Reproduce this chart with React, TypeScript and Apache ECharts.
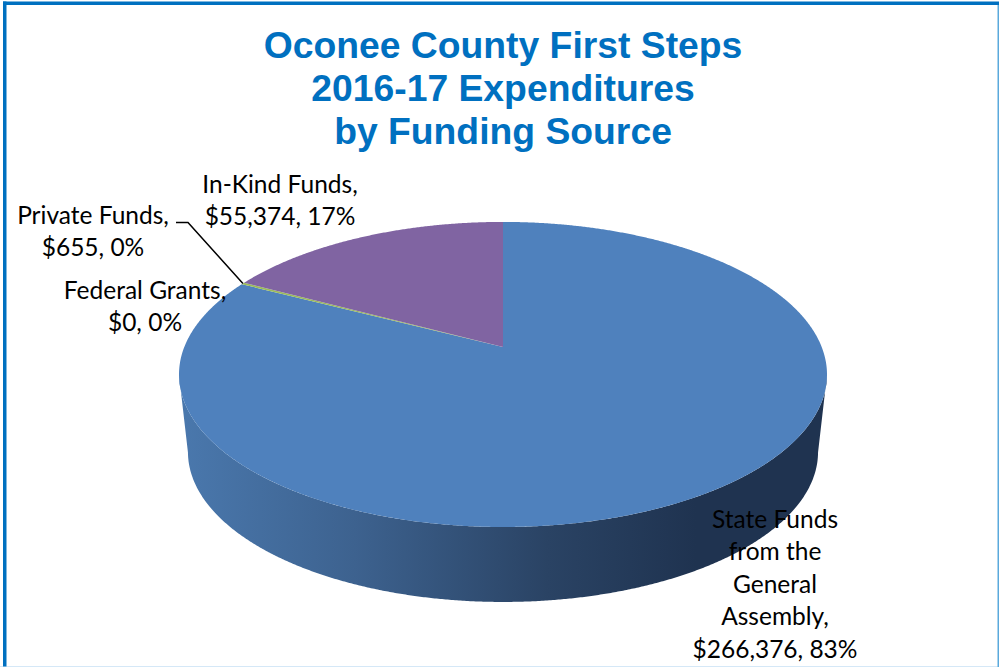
import React, { useEffect, useRef } from "react";
import * as echarts from "echarts";

const titleLines = ["Oconee County First Steps", "2016-17 Expenditures", "by Funding Source"];
const categories = ["State Funds from the General Assembly", "Federal Grants", "Private Funds", "In-Kind Funds"];
const amounts = [266376, 0, 655, 55374];
const sliceColors = ["#4f81bd", "#c0504d", "#9bbb59", "#8064a2"];

const total = amounts.reduce((a, b) => a + b, 0);
const W = 999;
const H = 667;

// perspective projection of the pie's unit circle
const PERSP = 0.18;
const topDisc = { cx: 503, cy: 347, A: 318.7, B: 147.6 };
const botDisc = { cx: 503, cy: 425, A: 309.9, B: 145.1 };
const FRONT_V = 0.183;

function project(d: typeof topDisc, theta: number): number[] {
  const u = Math.sin(theta);
  const v = -Math.cos(theta);
  const w = 1 - PERSP * v;
  return [d.cx + (d.A * u) / w, d.cy + (d.B * v) / w];
}

function sliceAngles(i: number): [number, number] {
  let before = 0;
  for (let k = 0; k < i; k++) before += amounts[k];
  return [(before / total) * 2 * Math.PI, ((before + amounts[i]) / total) * 2 * Math.PI];
}

function arcPoints(d: typeof topDisc, a: number, b: number): number[][] {
  const n = Math.max(2, Math.ceil((b - a) / 0.005));
  const pts: number[][] = [];
  for (let i = 0; i <= n; i++) pts.push(project(d, a + ((b - a) * i) / n));
  return pts;
}

const wallGradient = new echarts.graphic.LinearGradient(
  180, 0, 825, 0,
  [
    { offset: 0, color: "#4a78ad" },
    { offset: 0.27, color: "#3d628f" },
    { offset: 0.57, color: "#2a4364" },
    { offset: 0.8, color: "#1f3350" },
    { offset: 1, color: "#1f3350" },
  ],
  true
);

const labelLayout = [
  { x: 775, y: 518, lines: ["State Funds", "from the", "General", "Assembly,"] },
  { x: 145, y: 289, lines: ["Federal Grants,"] },
  { x: 93, y: 214, lines: ["Private Funds,"] },
  { x: 280, y: 183, lines: ["In-Kind Funds,"] },
];
const LINE_H = 32.5;
const leaderStart = [176, 222.5];
const leaderElbow = [188, 222.5];
const LEADER_INDEX = 2;

function money(v: number) {
  return "$" + v.toLocaleString("en-US");
}

export default function App() {
  const ref = useRef<HTMLDivElement>(null);
  useEffect(() => {
    document.body.style.margin = "0";
    const chart = echarts.init(ref.current!, undefined, { renderer: "svg" });
    const seriesData = amounts.map((v, i) => ({ name: categories[i], value: v }));
    const option: any = {
      animation: false,
      backgroundColor: "#ffffff",
      title: {
        text: titleLines.join("\n"),
        left: 498,
        top: 18,
        textAlign: "center",
        textStyle: {
          fontFamily: "Liberation Sans",
          fontWeight: "bold",
          fontSize: 37.3,
          lineHeight: 43,
          color: "#0070c0",
        },
      },
      graphic: [
        { type: "rect", shape: { x: 0, y: 666, width: W, height: 1 }, style: { fill: "#d5e8f7" } },
        { type: "rect", shape: { x: 997.5, y: 2, width: 1.5, height: 665 }, style: { fill: "#5aa9dc" } },
        { type: "rect", shape: { x: 3, y: 1.5, width: 3.5, height: 665 }, style: { fill: "#0070c0" } },
        { type: "rect", shape: { x: 3, y: 1.5, width: 996, height: 3.5 }, style: { fill: "#0070c0" } },
      ],
      series: [
        {
          type: "custom",
          name: "walls",
          coordinateSystem: "none",
          silent: true,
          z: 1,
          data: seriesData,
          renderItem: (p: any) => {
            const [a, b] = sliceAngles(p.dataIndex);
            const front = Math.acos(-FRONT_V);
            const s = Math.max(a, front);
            const e = Math.min(b, 2 * Math.PI - front);
            if (e <= s) return { type: "group", children: [] };
            const pts = arcPoints(topDisc, s, e).concat(arcPoints(botDisc, s, e).reverse());
            return { type: "polygon", shape: { points: pts }, style: { fill: wallGradient } };
          },
        },
        {
          type: "custom",
          name: "faces",
          coordinateSystem: "none",
          silent: true,
          z: 2,
          data: seriesData,
          renderItem: (p: any) => {
            const [a, b] = sliceAngles(p.dataIndex);
            if (b <= a) return { type: "group", children: [] };
            const pts = [[topDisc.cx, topDisc.cy]].concat(arcPoints(topDisc, a, b));
            return { type: "polygon", shape: { points: pts }, style: { fill: sliceColors[p.dataIndex] } };
          },
        },
        {
          type: "custom",
          name: "leader",
          coordinateSystem: "none",
          silent: true,
          z: 3,
          data: [seriesData[LEADER_INDEX]],
          renderItem: () => {
            const [a, b] = sliceAngles(LEADER_INDEX);
            const end = project(topDisc, (a + b) / 2);
            return {
              type: "polyline",
              shape: { points: [leaderStart, leaderElbow, end] },
              style: { stroke: "#000000", lineWidth: 1.5, fill: "none" },
            };
          },
        },
        {
          type: "custom",
          name: "labels",
          coordinateSystem: "none",
          silent: true,
          z: 4,
          data: seriesData,
          renderItem: (p: any) => {
            const i = p.dataIndex;
            const pct = Math.round((amounts[i] / total) * 100);
            const l = labelLayout[i];
            const text = l.lines.concat([`${money(amounts[i])}, ${pct}%`]).join("\n");
            return {
              type: "text",
              x: l.x,
              y: l.y - LINE_H / 2,
              style: {
                text,
                fill: "#000000",
                font: "24.5px Lato",
                lineHeight: LINE_H,
                align: "center",
                verticalAlign: "top",
              },
            };
          },
        },
      ],
    };
    chart.setOption(option);
    return () => chart.dispose();
  }, []);
  return <div ref={ref} style={{ width: W, height: H }} />;
}
